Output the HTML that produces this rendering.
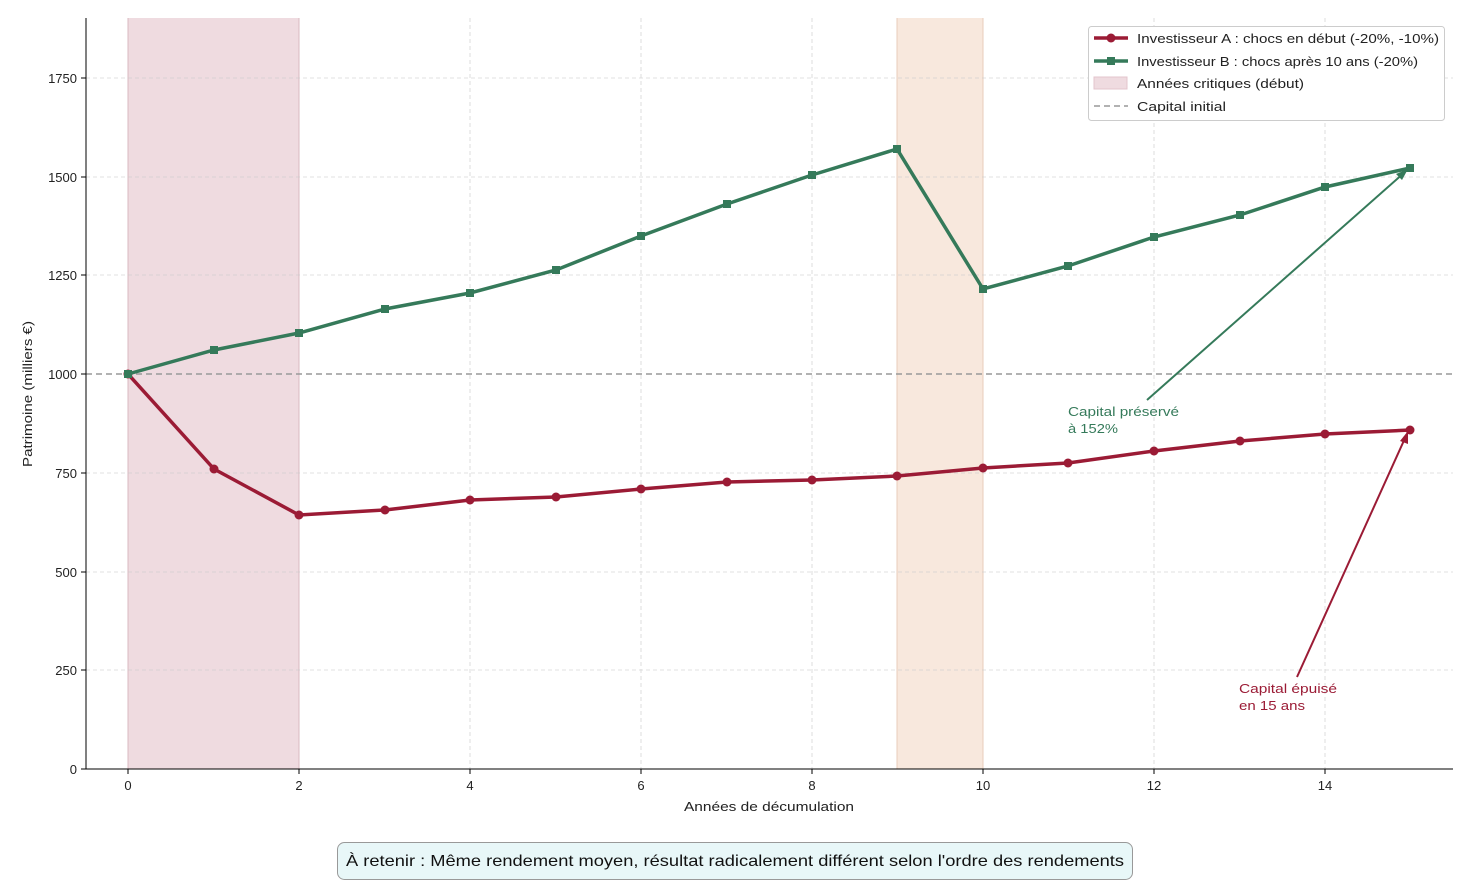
<!DOCTYPE html><html><head><meta charset="utf-8"><style>body{margin:0;background:#fff}svg{font-family:"Liberation Sans",sans-serif}</style></head><body>
<svg width="1470" height="884" xmlns="http://www.w3.org/2000/svg">
<rect x="128" y="18" width="171" height="751" fill="#efdbe0"/>
<rect x="897" y="18" width="86" height="751" fill="#f8e8dd"/>
<line x1="128" y1="18" x2="128" y2="769" stroke="#d9b8c0"/><line x1="299" y1="18" x2="299" y2="769" stroke="#d9b8c0"/>
<line x1="897" y1="18" x2="897" y2="769" stroke="#e8cdbb"/><line x1="983" y1="18" x2="983" y2="769" stroke="#e8cdbb"/>
<g stroke="#ccc" stroke-width="0.8" stroke-dasharray="4,3" opacity="0.8">
<line x1="86" x2="1453" y1="670" y2="670"/><line x1="86" x2="1453" y1="572" y2="572"/><line x1="86" x2="1453" y1="473" y2="473"/><line x1="86" x2="1453" y1="275" y2="275"/><line x1="86" x2="1453" y1="177" y2="177"/><line x1="86" x2="1453" y1="78" y2="78"/>
<line y1="18" y2="769" x1="470" x2="470"/><line y1="18" y2="769" x1="641" x2="641"/><line y1="18" y2="769" x1="812" x2="812"/><line y1="18" y2="769" x1="1154" x2="1154"/><line y1="18" y2="769" x1="1325" x2="1325"/>
</g>
<line x1="86" x2="1453" y1="374" y2="374" stroke="#999" stroke-width="1.5" stroke-dasharray="6,4"/>
<line x1="86" y1="18" x2="86" y2="769" stroke="#000"/><line x1="86" y1="769" x2="1453" y2="769" stroke="#000"/>
<g font-size="13" fill="#222" text-anchor="end">
<text x="77" y="774">0</text><text x="77" y="675">250</text><text x="77" y="577">500</text><text x="77" y="478">750</text><text x="77" y="379">1000</text><text x="77" y="280">1250</text><text x="77" y="182">1500</text><text x="77" y="83">1750</text></g>
<g stroke="#000"><line x1="81" x2="86" y1="769" y2="769"/><line x1="81" x2="86" y1="670" y2="670"/><line x1="81" x2="86" y1="572" y2="572"/><line x1="81" x2="86" y1="473" y2="473"/><line x1="81" x2="86" y1="374" y2="374"/><line x1="81" x2="86" y1="275" y2="275"/><line x1="81" x2="86" y1="177" y2="177"/><line x1="81" x2="86" y1="78" y2="78"/>
<line y1="769" y2="774" x1="128" x2="128"/><line y1="769" y2="774" x1="299" x2="299"/><line y1="769" y2="774" x1="470" x2="470"/><line y1="769" y2="774" x1="641" x2="641"/><line y1="769" y2="774" x1="812" x2="812"/><line y1="769" y2="774" x1="983" x2="983"/><line y1="769" y2="774" x1="1154" x2="1154"/><line y1="769" y2="774" x1="1325" x2="1325"/></g>
<g font-size="13" fill="#222" text-anchor="middle"><text x="128" y="790">0</text><text x="299" y="790">2</text><text x="470" y="790">4</text><text x="641" y="790">6</text><text x="812" y="790">8</text><text x="983" y="790">10</text><text x="1154" y="790">12</text><text x="1325" y="790">14</text>
<text x="769" y="811" textLength="170" lengthAdjust="spacingAndGlyphs">Années de décumulation</text>
<text transform="translate(32,394) rotate(-90)" textLength="146" lengthAdjust="spacingAndGlyphs">Patrimoine (milliers €)</text></g>
<polyline fill="none" stroke="#9b1b35" stroke-width="3.5" points="128,374 214,469 299,515 385,510 470,500 556,497 641,489 727,482 812,480 897,476 983,468 1068,463 1154,451 1240,441 1325,434 1410,430"/>
<g fill="#9b1b35"><circle cx="128" cy="374" r="4.5"/><circle cx="214" cy="469" r="4.5"/><circle cx="299" cy="515" r="4.5"/><circle cx="385" cy="510" r="4.5"/><circle cx="470" cy="500" r="4.5"/><circle cx="556" cy="497" r="4.5"/><circle cx="641" cy="489" r="4.5"/><circle cx="727" cy="482" r="4.5"/><circle cx="812" cy="480" r="4.5"/><circle cx="897" cy="476" r="4.5"/><circle cx="983" cy="468" r="4.5"/><circle cx="1068" cy="463" r="4.5"/><circle cx="1154" cy="451" r="4.5"/><circle cx="1240" cy="441" r="4.5"/><circle cx="1325" cy="434" r="4.5"/><circle cx="1410" cy="430" r="4.5"/></g>
<polyline fill="none" stroke="#357a5a" stroke-width="3.5" points="128,374 214,350 299,333 385,309 470,293 556,270 641,236 727,204 812,175 897,149 983,289 1068,266 1154,237 1240,215 1325,187 1410,168"/>
<g fill="#357a5a"><rect x="124" y="370" width="8" height="8"/><rect x="210" y="346" width="8" height="8"/><rect x="295" y="329" width="8" height="8"/><rect x="381" y="305" width="8" height="8"/><rect x="466" y="289" width="8" height="8"/><rect x="552" y="266" width="8" height="8"/><rect x="637" y="232" width="8" height="8"/><rect x="723" y="200" width="8" height="8"/><rect x="808" y="171" width="8" height="8"/><rect x="893" y="145" width="8" height="8"/><rect x="979" y="285" width="8" height="8"/><rect x="1064" y="262" width="8" height="8"/><rect x="1150" y="233" width="8" height="8"/><rect x="1236" y="211" width="8" height="8"/><rect x="1321" y="183" width="8" height="8"/><rect x="1406" y="164" width="8" height="8"/></g>
<line x1="1147" y1="400" x2="1405" y2="172" stroke="#357a5a" stroke-width="2"/><polygon points="1408,169 1396,174 1402,180" fill="#357a5a"/>
<line x1="1297" y1="677" x2="1406" y2="436" stroke="#9b1b35" stroke-width="2"/><polygon points="1408,431 1400,441 1408,444" fill="#9b1b35"/>
<g font-size="13" fill="#357a5a"><text x="1068" y="416" textLength="111" lengthAdjust="spacingAndGlyphs">Capital préservé</text><text x="1068" y="433" textLength="50" lengthAdjust="spacingAndGlyphs">à 152%</text></g>
<g font-size="13" fill="#9b1b35"><text x="1239" y="693" textLength="98" lengthAdjust="spacingAndGlyphs">Capital épuisé</text><text x="1239" y="710" textLength="66" lengthAdjust="spacingAndGlyphs">en 15 ans</text></g>
<rect x="1088.5" y="26.5" width="356" height="94" rx="3" fill="#fff" stroke="#ccc"/>
<line x1="1094" x2="1128" y1="38" y2="38" stroke="#9b1b35" stroke-width="3.5"/><circle cx="1111" cy="38" r="4.5" fill="#9b1b35"/>
<line x1="1094" x2="1128" y1="61" y2="61" stroke="#357a5a" stroke-width="3.5"/><rect x="1107" y="57" width="8" height="8" fill="#357a5a"/>
<rect x="1094" y="77" width="33" height="12" fill="#efdbe0" stroke="#e3c5cd"/>
<line x1="1094" x2="1128" y1="106" y2="106" stroke="#999" stroke-width="1.5" stroke-dasharray="6,4"/>
<g font-size="13" fill="#222"><text x="1137" y="43" textLength="302" lengthAdjust="spacingAndGlyphs">Investisseur A : chocs en début (-20%, -10%)</text><text x="1137" y="66" textLength="281" lengthAdjust="spacingAndGlyphs">Investisseur B : chocs après 10 ans (-20%)</text><text x="1137" y="88" textLength="167" lengthAdjust="spacingAndGlyphs">Années critiques (début)</text><text x="1137" y="111" textLength="89" lengthAdjust="spacingAndGlyphs">Capital initial</text></g>
<rect x="337.5" y="842.5" width="795" height="37" rx="7" fill="#e8f7f8" stroke="#999"/>
<text x="735" y="866" font-size="16" text-anchor="middle" fill="#111" textLength="778" lengthAdjust="spacingAndGlyphs">À retenir : Même rendement moyen, résultat radicalement différent selon l'ordre des rendements</text>
</svg></body></html>
